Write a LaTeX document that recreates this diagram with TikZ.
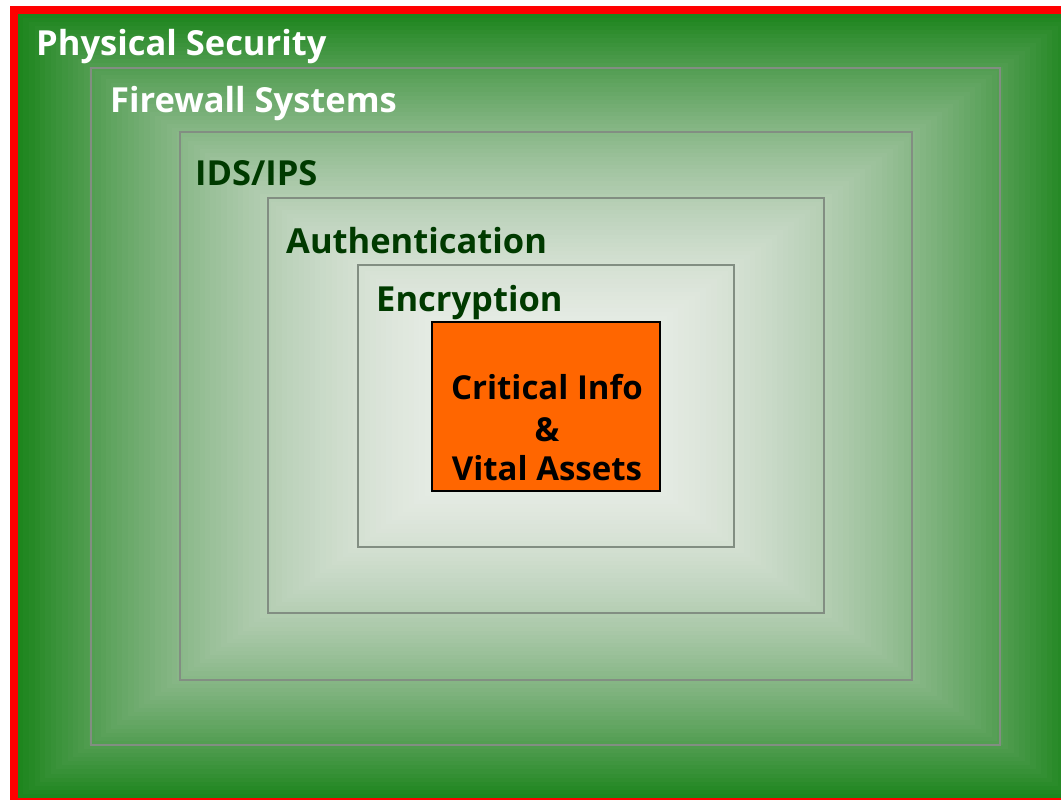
\documentclass[tikz,border=0pt]{standalone}
\usepackage{fontspec}
\setmainfont{Open Sans}
\definecolor{frameRed}{RGB}{255,0,0}
\definecolor{boxgray}{RGB}{130,142,130}
\definecolor{labelgreen}{RGB}{0,58,0}
\definecolor{coreorange}{RGB}{255,102,0}
\begin{document}
\begin{tikzpicture}[x=1pt,y=-1pt,
  layerbox/.style={draw=boxgray, line width=1.4pt, inner sep=0pt, outer sep=0pt},
  layerlabel/.style={anchor=base west, inner sep=0pt, font=\fontsize{34.5}{40}\selectfont\bfseries},
  corebox/.style={draw=black, line width=2pt, fill=coreorange, inner sep=0pt, outer sep=0pt},
  coretext/.style={anchor=base, inner sep=0pt, text=black, font=\fontsize{33}{40}\selectfont\bfseries}]
  \useasboundingbox (0,0) rectangle (1061,800);
  \fill[white] (0,0) rectangle (1061,800);
  % rectangular gradient: nested rectangles fading from green to a pale centre
  \def\cx{546}\def\cy{406}\def\hw{528}\def\hh{392}
  \foreach \i in {0,...,95}{
    \pgfmathsetmacro{\t}{\i/96}
    \pgfmathtruncatemacro{\rr}{30+210*(1-(1-\t)^2)}
    \pgfmathtruncatemacro{\gg}{134+110*(1-(1-\t)^1.7)}
    \pgfmathtruncatemacro{\bb}{30+208*(1-(1-\t)^2)}
    \pgfmathsetmacro{\w}{\hw*(1-\t)}
    \pgfmathsetmacro{\h}{\hh*(1-\t)}
    \definecolor{bandcolor}{RGB}{\rr,\gg,\bb}
    \fill[bandcolor] (\cx-\w,\cy-\h) rectangle (\cx+\w,\cy+\h);
  }
  % outer red frame
  \draw[frameRed, line width=8pt] (14,10) rectangle (1078,802);
  % nested layers
  \node (firewall) [layerbox, minimum width=909pt, minimum height=677pt] at (545.5,406.5) {};
  \node (ids) [layerbox, minimum width=732pt, minimum height=548pt] at (546,406) {};
  \node (auth) [layerbox, minimum width=556pt, minimum height=415pt] at (546,405.5) {};
  \node (encr) [layerbox, minimum width=376pt, minimum height=282pt] at (546,406) {};
  \node (core) [corebox, minimum width=228pt, minimum height=169pt] at (546,406.5) {};
  % layer labels
  \node (physlabel) [layerlabel, text=white] at (36,56) {Physical Security};
  \node (fwlabel) [layerlabel, text=white] at (110,113) {Firewall Systems};
  \node (idslabel) [layerlabel, text=labelgreen] at (195,185) {IDS/IPS};
  \node (authlabel) [layerlabel, text=labelgreen] at (286,253) {Authentication};
  \node (encrlabel) [layerlabel, text=labelgreen] at (376,311) {Encryption};
  % core contents
  \node (coreline1) [coretext] at (547,399) {Critical Info};
  \node (coreline2) [coretext] at (547,441) {\&};
  \node (coreline3) [coretext] at (547,480) {Vital Assets};
\end{tikzpicture}
\end{document}
